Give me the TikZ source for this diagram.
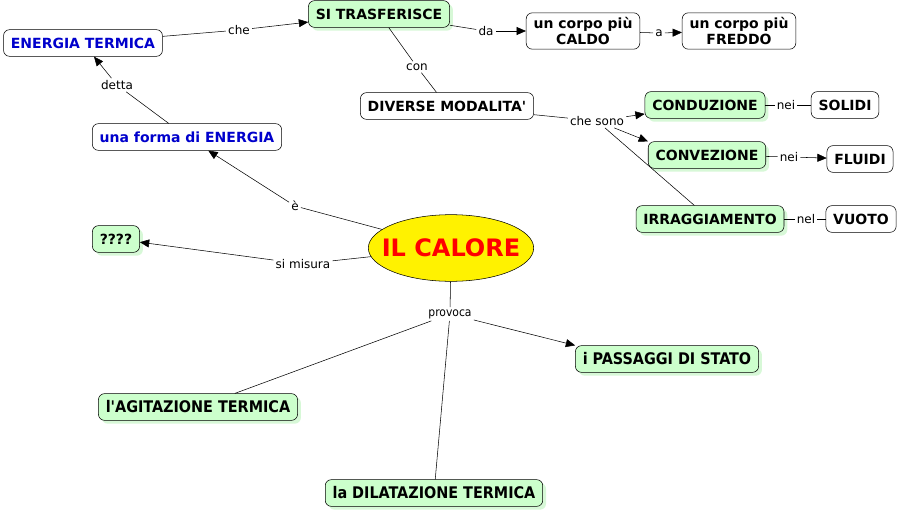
\documentclass[tikz,border=0pt]{standalone}
\usepackage{fontspec}
\setmainfont{DejaVu Sans}
\newfontfamily\condfont{DejaVu Sans Condensed}
\usetikzlibrary{arrows.meta,shapes.geometric,shadows}
\definecolor{conceptgreen}{RGB}{204,255,204}
\definecolor{shadowgreen}{RGB}{215,248,215}
\definecolor{conceptblue}{RGB}{0,0,204}
\tikzset{
  concept/.style={draw,rounded corners=4.5pt,fill=white,align=center,
    font=\bfseries\fontsize{10.5}{12}\selectfont,minimum height=20pt,inner xsep=5.5pt},
  greenconcept/.style={concept,fill=conceptgreen,
    drop shadow={shadow xshift=2.5pt,shadow yshift=-2.5pt,fill=shadowgreen,opacity=1}},
  narrowconcept/.style={greenconcept,font=\condfont\bfseries\fontsize{12}{14}\selectfont},
  linkword/.style={fill=white,inner sep=1.5pt,font=\fontsize{9}{10}\selectfont},
  linkarrow/.style={-{Triangle[length=7pt,width=6pt]}}
}

\begin{document}
\begin{tikzpicture}[x=0.75pt,y=-0.75pt]
    \useasboundingbox (0,0) rectangle (899,514);

    \node[concept,text=conceptblue] (energia) at (83,43) {ENERGIA TERMICA};
    \node[greenconcept] (trasf) at (379,14) {SI TRASFERISCE};
    \node[concept] (caldo) at (583,31) {un corpo più\\CALDO};
    \node[concept] (freddo) at (739,31) {un corpo più\\FREDDO};
    \node[concept] (modi) at (447,106) {DIVERSE MODALITA\textquotesingle};
    \node[concept,text=conceptblue] (forma) at (187,137) {una forma di ENERGIA};
    \node[greenconcept] (condu) at (705,105) {CONDUZIONE};
    \node[concept] (solidi) at (845,105) {SOLIDI};
    \node[greenconcept] (conve) at (707,155) {CONVEZIONE};
    \node[concept] (fluidi) at (860,159) {FLUIDI};
    \node[greenconcept] (irrag) at (710,219) {IRRAGGIAMENTO};
    \node[concept] (vuoto) at (861,219) {VUOTO};
    \node[greenconcept] (misura) at (116,239) {????};
    \node[ellipse,draw,fill=yellow,text=red,font=\bfseries\fontsize{18}{20}\selectfont,
      inner xsep=-9pt,inner ysep=0pt,minimum width=124pt,minimum height=50pt] (calore) at (451,248) {IL CALORE};
    \node[narrowconcept] (passaggi) at (667,359) {i PASSAGGI DI STATO};
    \node[narrowconcept] (agitaz) at (198,407) {l\textquotesingle AGITAZIONE TERMICA};
    \node[narrowconcept] (dilataz) at (434,493) {la DILATAZIONE TERMICA};

    % parole di collegamento
    \node[linkword] (l1) at (239,30) {che};
    \node[linkword] (l2) at (486,31) {da};
    \node[linkword] (l3) at (659,33) {a};
    \node[linkword] (l4) at (417,67) {con};
    \node[linkword] (l5) at (117,85) {detta};
    \node[linkword] (l6) at (597,121) {che sono};
    \node[linkword] (l7) at (786,105) {nei};
    \node[linkword] (l8) at (789,157) {nei};
    \node[linkword] (l9) at (806,219) {nel};
    \node[linkword] (l10) at (295,206) {è};
    \node[linkword] (l11) at (303,264) {si misura};
    \node[linkword,font=\condfont\fontsize{9}{10}\selectfont] (l12) at (450,314) {provoca};

    \path[black,thin]
    (energia) edge (l1) (l1) edge[linkarrow] (trasf)
    (trasf) edge (l2) (l2) edge[linkarrow] (caldo)
    (caldo) edge (l3) (l3) edge[linkarrow] (freddo)
    (trasf) edge (l4) (l4) edge (modi)
    (forma) edge (l5) (l5) edge[linkarrow] (energia)
    (modi) edge (l6)
    (l6) edge[linkarrow] (condu)
    (l6) edge[linkarrow] (conve.north west)
    (l6) edge (irrag)
    (condu) edge (l7) (l7) edge (solidi)
    (conve) edge (l8) (l8) edge[linkarrow] (fluidi)
    (irrag) edge (l9) (l9) edge (vuoto)
    (calore) edge (l10) (l10) edge[linkarrow] (forma)
    (calore) edge (l11) (l11) edge[linkarrow] (misura)
    (calore) edge (l12)
    (l12) edge[linkarrow] (passaggi.north west)
    (l12) edge (agitaz)
    (l12) edge (dilataz);
\end{tikzpicture}
\end{document}
